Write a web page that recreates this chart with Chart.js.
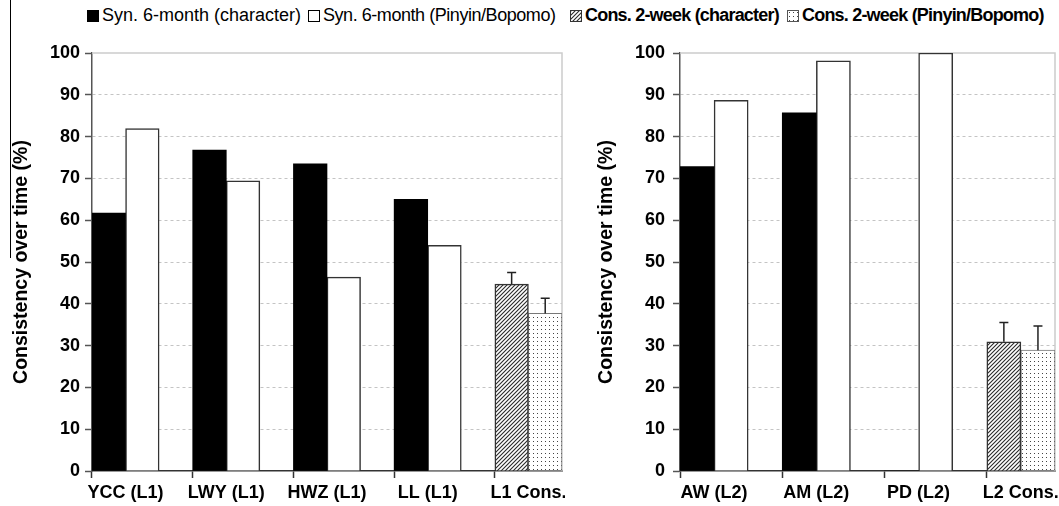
<!DOCTYPE html>
<html>
<head>
<meta charset="utf-8">
<script src="https://cdn.jsdelivr.net/npm/chart.js@4.4.1/dist/chart.umd.min.js"></script>
<style>
  body { margin: 0; background: #fff; }
  #wrap { position: relative; width: 1059px; height: 506px; overflow: hidden; font-family: Arial, "Liberation Sans", sans-serif; }
  #leftChart { position: absolute; left: 0; top: 0; }
  #rightChart { position: absolute; left: 565px; top: 0; }
  .lg { position: absolute; top: 4px; height: 22px; line-height: 22px; font-size: 18px; white-space: nowrap; color: #000; }
  .lg i { display: inline-block; width: 12px; height: 12px; box-sizing: border-box; margin-right: 3px; vertical-align: -1px; }
  .lg.b { font-weight: bold; letter-spacing: -0.8px; }
  #edge { position: absolute; left: 10px; top: 0; width: 1px; height: 258px; background: #000; }
</style>
</head>
<body>
<div id="wrap">
  <div id="edge"></div>
  <div class="lg" style="left:87px"><i id="sw0"></i>Syn. 6-month (character)</div>
  <div class="lg" style="left:308px;letter-spacing:-0.45px"><i id="sw1"></i>Syn. 6-month (Pinyin/Bopomo)</div>
  <div class="lg b" style="left:570px"><i id="sw2"></i>Cons. 2-week (character)</div>
  <div class="lg b" style="left:787px"><i id="sw3"></i>Cons. 2-week (Pinyin/Bopomo)</div>
  <canvas id="leftChart" width="565" height="506"></canvas>
  <canvas id="rightChart" width="494" height="506"></canvas>
</div>
<script>
// 데이터 =====================================================================
const seriesNames = ['Syn. 6-month (character)', 'Syn. 6-month (Pinyin/Bopomo)', 'Cons. 2-week (character)', 'Cons. 2-week (Pinyin/Bopomo)'];
const yTicks = [0, 10, 20, 30, 40, 50, 60, 70, 80, 90, 100];

// L1 (왼쪽)
const l1Subjects = ['YCC (L1)', 'LWY (L1)', 'HWZ (L1)', 'LL (L1)'];
const l1SynChar = [61.7, 76.8, 73.5, 65.0];
const l1SynPinyin = [81.9, 69.4, 46.4, 54.0];
const l1ConsLabel = 'L1 Cons.';
const l1Cons = [44.7, 37.7];       // character, pinyin
const l1ConsErr = [2.8, 3.6];

// L2 (오른쪽)
const l2Subjects = ['AW (L2)', 'AM (L2)', 'PD (L2)'];
const l2SynChar = [72.8, 85.7, 0];
const l2SynPinyin = [88.7, 98.1, 100.0];
const l2ConsLabel = 'L2 Cons.';
const l2Cons = [30.9, 28.9];
const l2ConsErr = [4.6, 5.8];

const FONT = 'Arial, "Liberation Sans", sans-serif';

// 패턴 =======================================================================
function makeTile(type) {
    const c = document.createElement('canvas');
    c.width = 4; c.height = 4;
    const g = c.getContext('2d');
    g.fillStyle = '#fff';
    g.fillRect(0, 0, 4, 4);
    if (type === 'hatch') {
        g.strokeStyle = '#2a2a2a';
        g.lineWidth = 1.1;
        g.beginPath();
        g.moveTo(0, 4); g.lineTo(4, 0);
        g.moveTo(-1, 1); g.lineTo(1, -1);
        g.moveTo(3, 5); g.lineTo(5, 3);
        g.stroke();
    } else {
        g.fillStyle = '#444';
        g.fillRect(1, 1, 1, 1);
    }
    return c;
}
const hatchTile = makeTile('hatch');
const dotTile = makeTile('dots');
const patCtx = document.createElement('canvas').getContext('2d');
const hatchPattern = patCtx.createPattern(hatchTile, 'repeat');
const dotPattern = patCtx.createPattern(dotTile, 'repeat');

// 레전드 스와치
document.getElementById('sw0').style.background = '#000';
document.getElementById('sw1').style.cssText = 'background:#fff;border:1px solid #000';
document.getElementById('sw2').style.cssText = 'background-image:url(' + hatchTile.toDataURL() + ');border:1px solid #333';
document.getElementById('sw3').style.cssText = 'background-image:url(' + dotTile.toDataURL() + ');border:1px solid #555';

// 슬롯 데이터 생성 (과목마다 문자, 병음, 빈칸 / 마지막 Cons. 두 칸)
function createSlotData(subjects, synChar, synPinyin, consLabel, cons, consErr) {
    const labels = [], d0 = [], d1 = [], d2 = [], d3 = [], e2 = [], e3 = [];
    subjects.forEach((s, i) => {
        labels.push(s, '', '');
        d0.push(synChar[i], null, null);
        d1.push(null, synPinyin[i], null);
        d2.push(null, null, null);
        d3.push(null, null, null);
        e2.push(null, null, null);
        e3.push(null, null, null);
    });
    labels.push(consLabel, '');
    d0.push(null, null); d1.push(null, null);
    d2.push(cons[0], null); d3.push(null, cons[1]);
    e2.push(consErr[0], null); e3.push(null, consErr[1]);

    return {
        labels: labels,
        datasets: [
            { label: seriesNames[0], data: d0, backgroundColor: '#000', borderWidth: 0 },
            { label: seriesNames[1], data: d1, backgroundColor: '#fff', borderColor: '#333', borderWidth: 1.5 },
            { label: seriesNames[2], data: d2, errors: e2, backgroundColor: hatchPattern, borderColor: '#333', borderWidth: 1.5 },
            { label: seriesNames[3], data: d3, errors: e3, backgroundColor: dotPattern, borderColor: '#777', borderWidth: 1 }
        ]
    };
}

// 플롯 테두리 (위, 오른쪽)
const framePlugin = {
    id: 'frame',
    beforeDatasetsDraw(chart) {
        const { ctx, chartArea: a } = chart;
        ctx.save();
        ctx.strokeStyle = '#cccccc';
        ctx.lineWidth = 1.5;
        ctx.beginPath();
        ctx.moveTo(a.left, a.top);
        ctx.lineTo(a.right, a.top);
        ctx.lineTo(a.right, a.bottom);
        ctx.stroke();
        ctx.restore();
    }
};

// 오차 막대 (위쪽만)
const errorBarPlugin = {
    id: 'errorBars',
    afterDatasetsDraw(chart) {
        const ctx = chart.ctx;
        const y = chart.scales.y;
        chart.data.datasets.forEach((ds, i) => {
            if (!ds.errors) return;
            chart.getDatasetMeta(i).data.forEach((bar, j) => {
                const e = ds.errors[j];
                if (e == null) return;
                const top = y.getPixelForValue(ds.data[j] + e);
                ctx.save();
                ctx.strokeStyle = '#222';
                ctx.lineWidth = 1.5;
                ctx.beginPath();
                ctx.moveTo(bar.x, bar.y);
                ctx.lineTo(bar.x, top);
                ctx.moveTo(bar.x - 4.5, top);
                ctx.lineTo(bar.x + 4.5, top);
                ctx.stroke();
                ctx.restore();
            });
        });
    }
};

// 패널 차트 생성
function createPanelChart(chartid, data, yAxisWidth, titlePad, tickPad, slotHalf, rightPad) {
    const ctx = document.getElementById(chartid);

    return new Chart(ctx, {
        type: 'bar',
        data: data,
        options: {
            responsive: false,
            animation: false,
            layout: { padding: { top: 53, right: rightPad, left: 0, bottom: 0 } },
            plugins: { legend: { display: false }, tooltip: { enabled: false } },
            datasets: { bar: { grouped: false, barPercentage: 1, categoryPercentage: 1 } },
            scales: {
                x: {
                    offset: true,
                    grid: {
                        offset: true,
                        drawOnChartArea: false,
                        tickLength: 7,
                        tickWidth: 1.5,
                        tickColor: (c) => (c.index % 3 === 0 ? '#333' : 'rgba(0,0,0,0)')
                    },
                    border: { color: '#333', width: 1.5 },
                    ticks: {
                        autoSkip: false, maxRotation: 0, labelOffset: slotHalf, padding: 4,
                        color: '#000', font: { family: FONT, size: 18, weight: 'bold' }
                    },
                    afterFit: (s) => { s.height = 35; }
                },
                y: {
                    min: 0, max: 100,
                    afterBuildTicks: (s) => { s.ticks = yTicks.map(v => ({ value: v })); },
                    ticks: { padding: tickPad, color: '#000', font: { family: FONT, size: 18, weight: 'bold' } },
                    grid: {
                        color: (c) => (c.tick && c.tick.value > 0 && c.tick.value < 100 ? '#c4c4c4' : 'rgba(0,0,0,0)'),
                        tickLength: 7,
                        tickWidth: 1.5,
                        tickColor: '#555'
                    },
                    border: { color: '#555', width: 1.5, dash: [3, 3] },
                    title: {
                        display: true, text: 'Consistency over time (%)', color: '#000',
                        padding: { top: titlePad, bottom: 0 },
                        font: { family: FONT, size: 19.5, weight: 'bold' }
                    },
                    afterFit: (s) => { s.width = yAxisWidth; }
                }
            }
        },
        plugins: [framePlugin, errorBarPlugin]
    });
}

const leftData = createSlotData(l1Subjects, l1SynChar, l1SynPinyin, l1ConsLabel, l1Cons, l1ConsErr);
const rightData = createSlotData(l2Subjects, l2SynChar, l2SynPinyin, l2ConsLabel, l2Cons, l2ConsErr);

createPanelChart('leftChart', leftData, 92, 10.3, 5, 16.8, 3);
createPanelChart('rightChart', rightData, 115, 30.3, 8, 17, 4);
</script>
</body>
</html>
